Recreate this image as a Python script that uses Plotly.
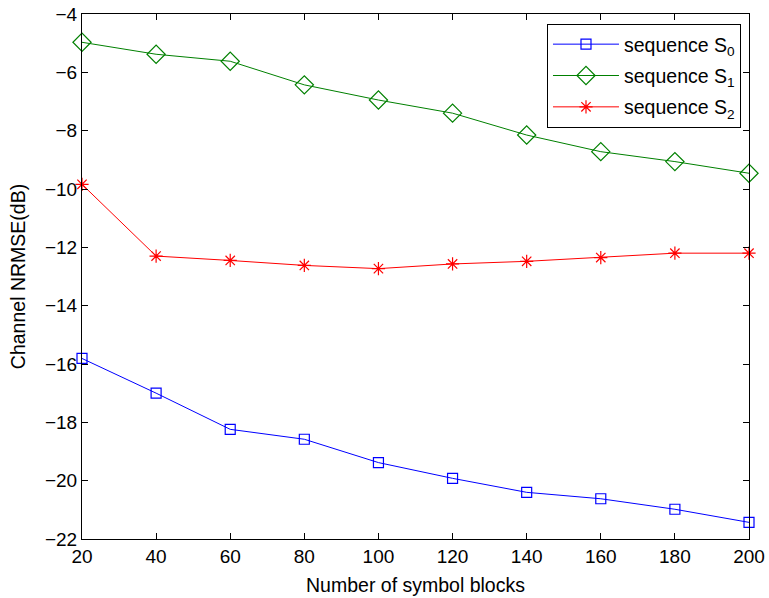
import plotly.graph_objects as go

blocks = [20, 40, 60, 80, 100, 120, 140, 160, 180, 200]
s0 = [-15.81, -17.0, -18.24, -18.58, -19.38, -19.92, -20.40, -20.62, -20.98, -21.43]
s1 = [-4.97, -5.38, -5.62, -6.43, -6.95, -7.40, -8.15, -8.72, -9.06, -9.46]
s2 = [-9.84, -12.30, -12.45, -12.62, -12.73, -12.57, -12.48, -12.35, -12.20, -12.20]
names = ["sequence S<sub>0</sub>", "sequence S<sub>1</sub>", "sequence S<sub>2</sub>"]
x_ticks = [20, 40, 60, 80, 100, 120, 140, 160, 180, 200]
y_ticks = [-4, -6, -8, -10, -12, -14, -16, -18, -20, -22]

fig = go.Figure()
fig.add_trace(go.Scatter(x=blocks, y=s0, name=names[0], legendgroup="g0", mode="lines+markers", cliponaxis=False,
                         line=dict(color="#0000FF", width=1),
                         marker=dict(symbol="square-open", size=10, color="#0000FF", line=dict(width=1.2))))
fig.add_trace(go.Scatter(x=blocks, y=s1, name=names[1], legendgroup="g1", mode="lines+markers", cliponaxis=False,
                         line=dict(color="#008000", width=1),
                         marker=dict(symbol="diamond-open", size=14, color="#008000", line=dict(width=1.2))))
fig.add_trace(go.Scatter(x=blocks, y=s2, name=names[2], legendgroup="g2", mode="lines+markers", cliponaxis=False,
                         line=dict(color="#FF0000", width=1),
                         marker=dict(symbol="asterisk-open", size=11, color="#FF0000", line=dict(width=1.2, color="#FF0000"))))

axis_common = dict(showgrid=False, zeroline=False, showline=True, linecolor="black", linewidth=1,
                   mirror="ticks", ticks="inside", ticklen=6, tickcolor="black", automargin=False,
                   tickfont=dict(size=19, color="black"))

fig.update_layout(
    width=769, height=598,
    margin=dict(l=82, r=20, t=14, b=59),
    paper_bgcolor="white", plot_bgcolor="white",
    font=dict(family="Liberation Sans, Arial, sans-serif", color="black"),
    xaxis=dict(range=[20, 200], tickvals=x_ticks,
               title=dict(text="Number of symbol blocks", font=dict(size=19.5), standoff=12),
               **axis_common),
    yaxis=dict(range=[-22, -4], tickvals=y_ticks, ticktext=[str(v).replace("-", "\u2212") for v in y_ticks],
               title=dict(text="Channel NRMSE(dB)", font=dict(size=19.5), standoff=14),
               **axis_common),
    legend=dict(x=0.988, y=0.981, xanchor="right", yanchor="top",
                bgcolor="white", bordercolor="black", borderwidth=1, itemwidth=66,
                font=dict(size=19.5, color="black"), tracegroupgap=3, traceorder="grouped"),
    showlegend=True,
)

fig.write_html("out.html")
